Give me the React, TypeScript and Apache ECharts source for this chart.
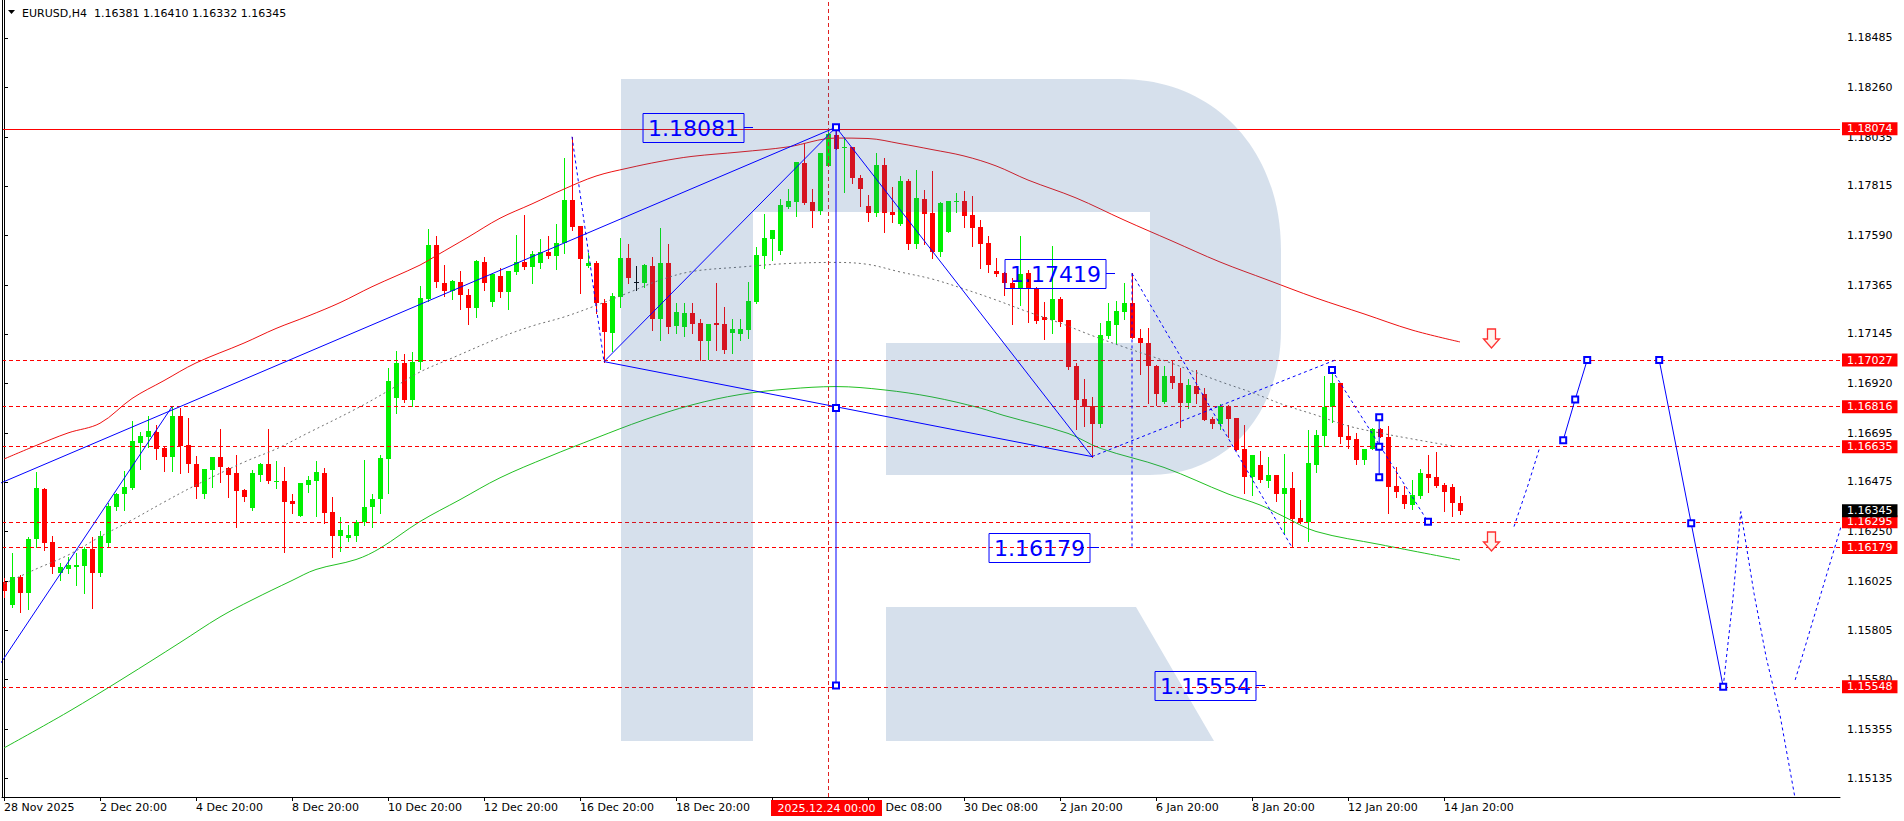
import React, { useEffect, useRef } from "react";
import * as echarts from "echarts";

// ---------- DATA ----------
const SYMBOL = "EURUSD,H4";

const OPENS = [
  1.16024, 1.15917, 1.16045, 1.15974, 1.16216, 1.16443, 1.16203, 1.16064, 1.16083, 1.16091,
  1.16096, 1.16172, 1.16064, 1.162, 1.16363, 1.16421, 1.16449, 1.16653, 1.16679, 1.167,
  1.1663, 1.1659, 1.16774, 1.16642, 1.16555, 1.16422, 1.16528, 1.16588, 1.1654, 1.16514,
  1.16439, 1.16356, 1.16507, 1.16556, 1.16479, 1.16479, 1.16389, 1.16322, 1.16463, 1.16481,
  1.16514, 1.16338, 1.16232, 1.16223, 1.16232, 1.16293, 1.16361, 1.16396, 1.16579, 1.16857,
  1.17014, 1.16846, 1.1702, 1.17303, 1.17548, 1.17376, 1.1734, 1.1738, 1.17323, 1.17264,
  1.17471, 1.17291, 1.17409, 1.17335, 1.17427, 1.17472, 1.1745, 1.17465, 1.17516, 1.17499,
  1.17556, 1.17752, 1.17634, 1.17453, 1.17465, 1.17285, 1.17151, 1.17314, 1.17489, 1.17379,
  1.17377, 1.17453, 1.17214, 1.17465, 1.17183, 1.17178, 1.17239, 1.17193, 1.17115, 1.17193,
  1.1719, 1.17148, 1.17146, 1.17163, 1.17291, 1.17499, 1.17575, 1.17521, 1.1772, 1.17744,
  1.17918, 1.17743, 1.17702, 1.17907, 1.18046, 1.17986, 1.1799, 1.1785, 1.17724, 1.17694,
  1.1791, 1.17697, 1.17642, 1.17838, 1.17554, 1.17756, 1.17693, 1.17515, 1.17608, 1.17744,
  1.17747, 1.17684, 1.17628, 1.17556, 1.1743, 1.17421, 1.17377, 1.1735, 1.1742, 1.17347,
  1.17221, 1.17208, 1.17302, 1.17208, 1.17, 1.16851, 1.1682, 1.16738, 1.17137, 1.17186,
  1.17246, 1.17287, 1.17128, 1.17103, 1.17, 1.16836, 1.16955, 1.16922, 1.16831, 1.1691,
  1.16873, 1.1676, 1.16738, 1.16819, 1.16763, 1.16623, 1.16499, 1.16552, 1.16479, 1.16507,
  1.16419, 1.16448, 1.16312, 1.16293, 1.16553, 1.16684, 1.16813, 1.16923, 1.16683, 1.1667,
  1.16576, 1.16623, 1.16715, 1.16679, 1.16457, 1.16416, 1.16372, 1.16412, 1.16511, 1.16499,
  1.16463, 1.16454, 1.16381,
];
const HIGHS = [
  1.16039, 1.16155, 1.16054, 1.16227, 1.16522, 1.16448, 1.16231, 1.16107, 1.16137, 1.16155,
  1.16182, 1.16225, 1.16253, 1.16379, 1.16427, 1.16525, 1.16753, 1.167, 1.16772, 1.16733,
  1.16635, 1.16816, 1.16809, 1.16765, 1.16593, 1.16534, 1.16588, 1.16715, 1.16544, 1.16597,
  1.16442, 1.16529, 1.1656, 1.16714, 1.16571, 1.16544, 1.16421, 1.16472, 1.16502, 1.16571,
  1.16537, 1.16408, 1.16318, 1.1628, 1.16303, 1.16575, 1.16421, 1.16597, 1.16992, 1.17069,
  1.17054, 1.17065, 1.17362, 1.1762, 1.17589, 1.17457, 1.17389, 1.1743, 1.17348, 1.1748,
  1.17494, 1.1742, 1.17444, 1.1743, 1.17593, 1.17684, 1.17521, 1.17575, 1.17589, 1.17642,
  1.17943, 1.18038, 1.17634, 1.1751, 1.17475, 1.17302, 1.17329, 1.17581, 1.17552, 1.17453,
  1.17462, 1.17495, 1.17626, 1.17552, 1.17287, 1.17287, 1.17284, 1.17211, 1.1719, 1.17375,
  1.17266, 1.17211, 1.17214, 1.1738, 1.1754, 1.17688, 1.17616, 1.17756, 1.17801, 1.17924,
  1.18011, 1.17801, 1.17963, 1.18061, 1.18081, 1.18038, 1.1799, 1.17865, 1.17774, 1.17963,
  1.1794, 1.17811, 1.1786, 1.17847, 1.17887, 1.17795, 1.17883, 1.17744, 1.17747, 1.17782,
  1.17792, 1.1777, 1.17661, 1.1759, 1.17488, 1.17427, 1.17397, 1.17589, 1.17435, 1.17359,
  1.17291, 1.17543, 1.17311, 1.17208, 1.17012, 1.16941, 1.16861, 1.17193, 1.17284, 1.17296,
  1.17377, 1.17419, 1.17166, 1.17171, 1.17005, 1.17, 1.17024, 1.16992, 1.1694, 1.16982,
  1.16899, 1.16771, 1.16827, 1.16824, 1.16763, 1.16733, 1.16597, 1.16617, 1.16589, 1.16507,
  1.16602, 1.16522, 1.16394, 1.1671, 1.1671, 1.16956, 1.16982, 1.16923, 1.16733, 1.16698,
  1.16624, 1.16718, 1.16718, 1.16729, 1.16544, 1.16457, 1.16484, 1.16532, 1.16597, 1.16611,
  1.16471, 1.16465, 1.1641,
];
const LOWS = [
  1.15956, 1.15908, 1.15888, 1.15899, 1.16179, 1.16167, 1.16062, 1.16031, 1.16064, 1.16009,
  1.15974, 1.15906, 1.16051, 1.16185, 1.16348, 1.16348, 1.16443, 1.16535, 1.16635, 1.1658,
  1.16526, 1.16526, 1.16517, 1.16522, 1.16404, 1.16404, 1.16454, 1.16476, 1.16408, 1.16273,
  1.1639, 1.16348, 1.16481, 1.16472, 1.16449, 1.1616, 1.16336, 1.16322, 1.16431, 1.16322,
  1.16288, 1.16137, 1.16164, 1.16209, 1.16209, 1.1628, 1.1627, 1.16333, 1.16427, 1.16789,
  1.16839, 1.1682, 1.16985, 1.17294, 1.17359, 1.17319, 1.17303, 1.17258, 1.17189, 1.17223,
  1.17344, 1.17273, 1.17314, 1.17257, 1.17416, 1.17438, 1.17377, 1.17445, 1.17488, 1.17438,
  1.17513, 1.17616, 1.17332, 1.17447, 1.17241, 1.1702, 1.17069, 1.17269, 1.17377, 1.17344,
  1.17359, 1.17163, 1.17118, 1.17148, 1.17148, 1.17136, 1.17148, 1.17027, 1.1703, 1.17073,
  1.17058, 1.17058, 1.17118, 1.17126, 1.17284, 1.17445, 1.1748, 1.17509, 1.17714, 1.17681,
  1.17732, 1.17631, 1.1769, 1.17907, 1.17983, 1.17789, 1.17827, 1.17726, 1.17657, 1.17681,
  1.17608, 1.17653, 1.17638, 1.1753, 1.17536, 1.17551, 1.17488, 1.17499, 1.17608, 1.17699,
  1.17631, 1.17545, 1.17445, 1.17427, 1.17409, 1.17322, 1.1719, 1.17276, 1.17198, 1.17196,
  1.17122, 1.17151, 1.17181, 1.16987, 1.16715, 1.16729, 1.1659, 1.16723, 1.17128, 1.17098,
  1.17213, 1.17128, 1.16964, 1.16831, 1.16824, 1.16831, 1.16902, 1.16723, 1.16809, 1.16834,
  1.16756, 1.16718, 1.16715, 1.16677, 1.1662, 1.16427, 1.16416, 1.16476, 1.16454, 1.1639,
  1.16246, 1.16179, 1.16288, 1.16209, 1.16522, 1.16638, 1.16748, 1.16653, 1.16628, 1.16557,
  1.16557, 1.16623, 1.16677, 1.16336, 1.16408, 1.16356, 1.16353, 1.16404, 1.16431, 1.16451,
  1.16345, 1.16322, 1.16332,
];
const CLOSES = [
  1.15983, 1.16045, 1.15974, 1.16217, 1.16448, 1.162, 1.16092, 1.16091, 1.16099, 1.16098,
  1.16172, 1.16064, 1.16231, 1.16366, 1.16421, 1.16452, 1.16661, 1.16683, 1.16706, 1.16626,
  1.1659, 1.16774, 1.16638, 1.16555, 1.16451, 1.16534, 1.16588, 1.16542, 1.16508, 1.16436,
  1.16408, 1.16517, 1.16556, 1.16479, 1.16481, 1.16386, 1.16374, 1.16472, 1.16484, 1.16522,
  1.16336, 1.16232, 1.16258, 1.16235, 1.16293, 1.16361, 1.16398, 1.16582, 1.16932, 1.17014,
  1.16846, 1.17018, 1.17307, 1.17548, 1.17382, 1.17341, 1.17385, 1.17323, 1.17264, 1.17475,
  1.17377, 1.17415, 1.17337, 1.1743, 1.17472, 1.1745, 1.17507, 1.17516, 1.17499, 1.17557,
  1.17752, 1.17631, 1.17486, 1.17468, 1.17287, 1.17153, 1.17317, 1.17489, 1.174, 1.17379,
  1.17457, 1.17214, 1.17465, 1.17178, 1.17246, 1.17239, 1.1719, 1.17115, 1.1719, 1.17187,
  1.17073, 1.17166, 1.17166, 1.17294, 1.17503, 1.17578, 1.17616, 1.17729, 1.17747, 1.17924,
  1.17737, 1.17702, 1.17963, 1.1805, 1.17983, 1.1799, 1.1785, 1.17801, 1.17694, 1.1791,
  1.17694, 1.17685, 1.17838, 1.17551, 1.17759, 1.1769, 1.17515, 1.17737, 1.17747, 1.17747,
  1.17681, 1.17626, 1.17554, 1.17457, 1.17418, 1.17377, 1.17352, 1.17417, 1.17355, 1.17204,
  1.17208, 1.17302, 1.17201, 1.16994, 1.16846, 1.16816, 1.16738, 1.17141, 1.17204, 1.17249,
  1.17287, 1.17128, 1.17103, 1.17, 1.16873, 1.16955, 1.16924, 1.16831, 1.16914, 1.16873,
  1.16756, 1.16738, 1.16819, 1.1676, 1.1662, 1.16496, 1.16597, 1.16484, 1.16507, 1.16419,
  1.16448, 1.16308, 1.16293, 1.16561, 1.16686, 1.16815, 1.16923, 1.16679, 1.16666, 1.16576,
  1.16624, 1.16715, 1.1668, 1.16454, 1.1643, 1.16377, 1.16416, 1.16516, 1.16493, 1.16458,
  1.1643, 1.16381, 1.16345,
];

// moving-average envelope: [bar index, price]
const MA_UPPER: number[][] = [
  [0, 1.16579], [4, 1.1664], [8, 1.16697], [12, 1.16741], [16, 1.16853], [20, 1.16934],
  [24, 1.17014], [30, 1.17104], [34, 1.1717], [38, 1.17226], [42, 1.17287], [46, 1.17359],
  [52, 1.17457], [54, 1.17499], [58, 1.17583], [62, 1.17669], [66, 1.17734], [70, 1.17801],
  [74, 1.1786], [78, 1.17896], [82, 1.17926], [86, 1.17949], [92, 1.17969], [98, 1.17992],
  [104, 1.18032], [108, 1.1803], [112, 1.18007], [116, 1.1798], [120, 1.17951], [124, 1.17906],
  [128, 1.17842], [134, 1.17761], [140, 1.17661], [146, 1.17566], [152, 1.17471], [158, 1.17389],
  [164, 1.17308], [170, 1.17236], [176, 1.17163], [182, 1.17109],
];
const MA_MIDDLE: number[][] = [
  [0, 1.16014], [4, 1.16081], [8, 1.16144], [12, 1.16227], [16, 1.16303], [20, 1.16384],
  [24, 1.16461], [30, 1.16565], [34, 1.16624], [38, 1.16697], [44, 1.16806], [48, 1.16887],
  [52, 1.16973], [56, 1.17036], [62, 1.17129], [66, 1.17181], [70, 1.17222], [74, 1.17274],
  [78, 1.17331], [82, 1.17389], [86, 1.17428], [92, 1.17448], [98, 1.17464], [104, 1.17469],
  [108, 1.1746], [112, 1.17426], [116, 1.17394], [120, 1.17349], [124, 1.17299], [128, 1.17245],
  [132, 1.17195], [136, 1.17138], [140, 1.17086], [146, 1.17012], [152, 1.1693], [156, 1.1688],
  [160, 1.16824], [164, 1.16778], [168, 1.16729], [172, 1.16697], [176, 1.1667], [181, 1.16638],
];
const MA_LOWER: number[][] = [
  [0, 1.15271], [8, 1.15434], [15, 1.15588], [22, 1.15748], [27, 1.15864], [31, 1.15941],
  [36, 1.16029], [39, 1.16079], [44, 1.16124], [47, 1.16175], [52, 1.16296], [57, 1.16395],
  [62, 1.16494], [68, 1.16588], [74, 1.16674], [80, 1.16756], [86, 1.16824], [92, 1.16871],
  [98, 1.16896], [104, 1.16907], [110, 1.16892], [116, 1.1686], [122, 1.1681], [125, 1.16776],
  [133, 1.16695], [137, 1.16628], [145, 1.16541], [153, 1.16421], [157, 1.16371], [160, 1.16318],
  [164, 1.16251], [172, 1.16192], [182, 1.16122],
];

// horizontal levels
const LEVELS = [1.18074, 1.17027, 1.16816, 1.16635, 1.16295, 1.16179, 1.15548];
const SOLID_LEVEL = 1.18074;

// wave / forecast structure: [bar index, price]
const WAVE_SOLID: number[][][] = [
  [[-0.5, 1.1565], [21, 1.16816]],
  [[-0.5, 1.16469], [104, 1.18081]],
  [[104, 1.18081], [136, 1.1659]],
  [[75, 1.1702], [104, 1.18081]],
  [[75, 1.1702], [136, 1.1659]],
];
const WAVE_DASHED: number[][][] = [
  [[71, 1.18038], [75, 1.1702]],
  [[141, 1.17419], [161, 1.16179]],
  [[141, 1.17419], [141, 1.16179]],
  [[136, 1.1659], [166.6, 1.1703]],
  [[188.75, 1.16273], [190.5, 1.16461], [192, 1.16635]],
  [[214.9, 1.15548], [216.1, 1.15941], [217.1, 1.16341], [218.75, 1.15971], [220.3, 1.15677], [222, 1.1542], [224.3, 1.1496]],
  [[223.9, 1.15579], [229.5, 1.16258], [230.5, 1.1638]],
];
const WAVE_MARKED_SOLID: number[][][] = [
  [[104, 1.18081], [104, 1.1681], [104, 1.15554]],
  [[171.9, 1.16768], [171.9, 1.16635], [171.9, 1.16496]],
  [[194.9, 1.16664], [196.4, 1.16849], [197.9, 1.17027]],
  [[206.9, 1.17027], [210.9, 1.16288], [214.9, 1.15548]],
];
const WAVE_MARKED_DASHED: number[][][] = [[[166, 1.16982], [178, 1.16295]]];

// price tags (anchor bar index, price)
const PRICE_TAGS = [
  { i: 93.6, price: 1.18081 },
  { i: 138.9, price: 1.17419 },
  { i: 136.9, price: 1.16179 },
  { i: 157.6, price: 1.15554 },
];
// down-arrow signals (tip bar index, tip price)
const ARROWS = [
  { i: 185.85, price: 1.1708 },
  { i: 185.85, price: 1.16164 },
];

const CROSSHAIR_BAR = 103;
const CROSSHAIR_LABEL = "2025.12.24 00:00";

const Y_TICKS = [
  1.15135, 1.15355, 1.1558, 1.15805, 1.16025, 1.1625, 1.16475, 1.16695, 1.1692, 1.17145,
  1.17365, 1.1759, 1.17815, 1.18035, 1.1826, 1.18485,
];
const X_TICKS = [0, 12, 24, 36, 48, 60, 72, 84, 96, 108, 120, 132, 144, 156, 168, 180];
const X_LABELS = [
  "28 Nov 2025", "2 Dec 20:00", "4 Dec 20:00", "8 Dec 20:00", "10 Dec 20:00", "12 Dec 20:00",
  "16 Dec 20:00", "18 Dec 20:00", "22 Dec 20:00", "26 Dec 08:00", "30 Dec 08:00", "2 Jan 20:00",
  "6 Jan 20:00", "8 Jan 20:00", "12 Jan 20:00", "14 Jan 20:00",
];

// ---------- STYLE ----------
const FONT = "DejaVu Sans";
const BULL = "#00f000";
const BEAR = "#ff0000";
const BLUE = "#0000ff";
const LOGO_D =
  "M621 79 H1120 C1215 79 1281 150 1281 250 V330 C1281 410 1230 475 1150 475 H886 V343 H1150 V212 H753 V741 H621 Z M886 607 H1136 L1214 741 H886 Z";

echarts.graphic.registerShape("rfLogo", echarts.graphic.extendPath(LOGO_D, {}) as any);

const fmt = (v: number) => v.toFixed(5);
const LAST = CLOSES.length - 1;
const HEADER = `${SYMBOL}  ${fmt(OPENS[LAST])} ${fmt(HIGHS[LAST])} ${fmt(LOWS[LAST])} ${fmt(CLOSES[LAST])}`;

function buildOption(): any {
  const candles = OPENS.map((o, i) => [i, o, HIGHS[i], LOWS[i], CLOSES[i]]);
  const series: any[] = [];

  series.push({
    type: "custom",
    z: 1,
    clip: true,
    encode: { x: 0, y: [1, 2, 3, 4] },
    data: candles,
    renderItem: (_p: any, api: any) => {
      const i = api.value(0);
      const o = api.value(1), h = api.value(2), l = api.value(3), c = api.value(4);
      const pO = api.coord([i, o]);
      const pC = api.coord([i, c]);
      const pH = api.coord([i, h]);
      const pL = api.coord([i, l]);
      const x = Math.round(pO[0]);
      const color = c > o ? BULL : c < o ? BEAR : "#000000";
      const top = Math.round(Math.min(pO[1], pC[1]));
      const bot = Math.round(Math.max(pO[1], pC[1]));
      return {
        type: "group",
        children: [
          {
            type: "line",
            shape: { x1: x + 0.5, y1: Math.round(pH[1]), x2: x + 0.5, y2: Math.round(pL[1]) + 1 },
            style: { stroke: color, lineWidth: 1 },
          },
          {
            type: "rect",
            shape: { x: x - 2, y: top, width: 5, height: Math.max(1, bot - top) },
            style: { fill: color },
          },
        ],
      };
    },
  });

  const maLine = (data: number[][], color: string, type: any) => ({
    type: "line",
    z: 2,
    data,
    showSymbol: false,
    symbol: "none",
    smooth: 0.35,
    silent: true,
    lineStyle: { color, width: 1, type },
  });
  series.push(maLine(MA_UPPER, "#ee1111", "solid"));
  series.push(maLine(MA_LOWER, "#22c022", "solid"));
  const mid: any = maLine(MA_MIDDLE, "#707070", [2, 3]);
  const tagLabel = (text: string, bg: string) => ({
    show: true,
    position: "end",
    distance: 2,
    formatter: text,
    color: "#ffffff",
    backgroundColor: bg,
    padding: [1, 5, 0, 5],
    lineHeight: 12,
    fontSize: 11,
    fontFamily: FONT,
  });
  mid.markLine = {
    silent: true,
    symbol: ["none", "none"],
    precision: 5,
    animation: false,
    data: [
      ...LEVELS.map((v) => ({
        yAxis: v,
        lineStyle: { color: "#ff0000", width: 1, type: v === SOLID_LEVEL ? "solid" : [4, 3] },
        label: tagLabel(fmt(v), "#ff0000"),
      })),
      {
        yAxis: CLOSES[LAST],
        lineStyle: { color: "rgba(0,0,0,0)", width: 0 },
        label: tagLabel(fmt(CLOSES[LAST]), "#000000"),
      },
      {
        xAxis: CROSSHAIR_BAR,
        lineStyle: { color: "#e02020", width: 1, type: [4, 3] },
        label: { show: false },
      },
    ],
  };
  series.push(mid);

  const blueLine = (data: number[][], dashed: boolean, marked: boolean) => ({
    type: "line",
    z: 60,
    data,
    silent: true,
    showSymbol: marked,
    symbol: marked ? "emptyRect" : "none",
    symbolSize: 6,
    itemStyle: { color: BLUE, borderColor: BLUE, borderWidth: 1 },
    lineStyle: { color: BLUE, width: 1, type: dashed ? [3, 3] : "solid" },
  });
  WAVE_SOLID.forEach((d) => series.push(blueLine(d, false, false)));
  WAVE_DASHED.forEach((d) => series.push(blueLine(d, true, false)));
  WAVE_MARKED_SOLID.forEach((d) => series.push(blueLine(d, false, true)));
  WAVE_MARKED_DASHED.forEach((d) => series.push(blueLine(d, true, true)));

  return {
    animation: false,
    backgroundColor: "#ffffff",
    tooltip: { show: false },
    grid: { left: 2, right: 64, top: 0, bottom: 24, containLabel: false },
    xAxis: {
      type: "value",
      min: -0.25,
      max: 229.5,
      axisLine: { show: true, lineStyle: { color: "#000", width: 1 } },
      axisTick: { show: true, customValues: X_TICKS, length: 4, lineStyle: { color: "#000" } },
      axisLabel: {
        customValues: X_TICKS,
        formatter: (v: number) => {
          const k = X_TICKS.indexOf(Math.round(v));
          return k >= 0 ? X_LABELS[k] : "";
        },
        align: "left",
        color: "#000",
        fontFamily: FONT,
        fontSize: 11,
        margin: 5,
      },
      splitLine: { show: false },
    },
    yAxis: {
      type: "value",
      position: "right",
      min: 1.15049,
      max: 1.18657,
      axisLine: { show: true, lineStyle: { color: "#000", width: 1 } },
      axisTick: { show: true, customValues: Y_TICKS, length: 4, lineStyle: { color: "#000" } },
      axisLabel: {
        customValues: Y_TICKS,
        formatter: (v: number) => fmt(v),
        color: "#000",
        fontFamily: FONT,
        fontSize: 11,
        margin: 7,
      },
      splitLine: { show: false },
    },
    series,
  };
}

function buildGraphics(px: (i: number, p: number) => number[]): any[] {
  const g: any[] = [];
  g.push({
    type: "rfLogo",
    x: 0,
    y: 0,
    scaleX: 1,
    scaleY: 1,
    silent: true,
    z: 50,
    style: { fill: "rgba(50,100,160,0.2)" },
  });
  g.push({
    type: "line",
    silent: true,
    z: 100,
    shape: { x1: 2.5, y1: 0, x2: 2.5, y2: 797 },
    style: { stroke: "#000", lineWidth: 1 },
  });
  g.push({
    type: "polygon",
    silent: true,
    z: 100,
    shape: { points: [[8, 10], [15, 10], [11.5, 14]] },
    style: { fill: "#000" },
  });
  g.push({
    type: "text",
    silent: true,
    z: 100,
    x: 22,
    y: 13,
    style: { text: HEADER, fontSize: 11, fontFamily: FONT, fill: "#000", align: "left", verticalAlign: "middle" },
  });

  PRICE_TAGS.forEach((t) => {
    const [ax, ay] = px(t.i, t.price);
    const yy = Math.round(ay) + 0.5;
    const boxRight = Math.round(ax) - 9;
    g.push({
      type: "line",
      silent: true,
      z: 70,
      shape: { x1: boxRight, y1: yy, x2: Math.round(ax), y2: yy },
      style: { stroke: BLUE, lineWidth: 1 },
    });
    g.push({
      type: "text",
      silent: true,
      z: 70,
      x: boxRight,
      y: Math.round(ay) + 1,
      style: {
        text: fmt(t.price),
        fontSize: 22,
        fontFamily: FONT,
        fill: BLUE,
        align: "right",
        verticalAlign: "middle",
        borderColor: BLUE,
        borderWidth: 1,
        padding: [4, 5, 3, 5],
      },
    });
  });

  ARROWS.forEach((a) => {
    const [tx0, ty0] = px(a.i, a.price);
    const tx = Math.round(tx0) + 0.5;
    const ty = Math.round(ty0);
    g.push({
      type: "polygon",
      silent: true,
      z: 70,
      shape: {
        points: [
          [tx - 4, ty - 19],
          [tx + 4, ty - 19],
          [tx + 4, ty - 9],
          [tx + 8, ty - 9],
          [tx, ty],
          [tx - 8, ty - 9],
          [tx - 4, ty - 9],
        ],
      },
      style: { fill: "#fff4ee", stroke: "#ff3030", lineWidth: 1.3 },
    });
  });

  const [cx] = px(CROSSHAIR_BAR, LEVELS[0]);
  g.push({
    type: "rect",
    silent: true,
    z: 100,
    shape: { x: Math.round(cx) - 57, y: 800, width: 111, height: 16 },
    style: { fill: "#ff0000" },
  });
  g.push({
    type: "text",
    silent: true,
    z: 101,
    x: Math.round(cx) - 1.5,
    y: 808,
    style: {
      text: CROSSHAIR_LABEL,
      fontSize: 11,
      fontFamily: FONT,
      fill: "#ffffff",
      align: "center",
      verticalAlign: "middle",
    },
  });
  return g;
}

export default function App() {
  const ref = useRef<HTMLDivElement>(null);
  useEffect(() => {
    document.body.style.margin = "0";
    const el = ref.current;
    if (!el) return;
    const chart = echarts.init(el, undefined, { renderer: "svg" });
    chart.setOption(buildOption());
    const px = (i: number, p: number) =>
      chart.convertToPixel({ gridIndex: 0 }, [i, p]) as unknown as number[];
    chart.setOption({ graphic: buildGraphics(px) });
    return () => chart.dispose();
  }, []);
  return (
    <div
      ref={ref}
      style={{ position: "absolute", left: 0, top: 0, width: 1904, height: 821, background: "#fff" }}
    />
  );
}
